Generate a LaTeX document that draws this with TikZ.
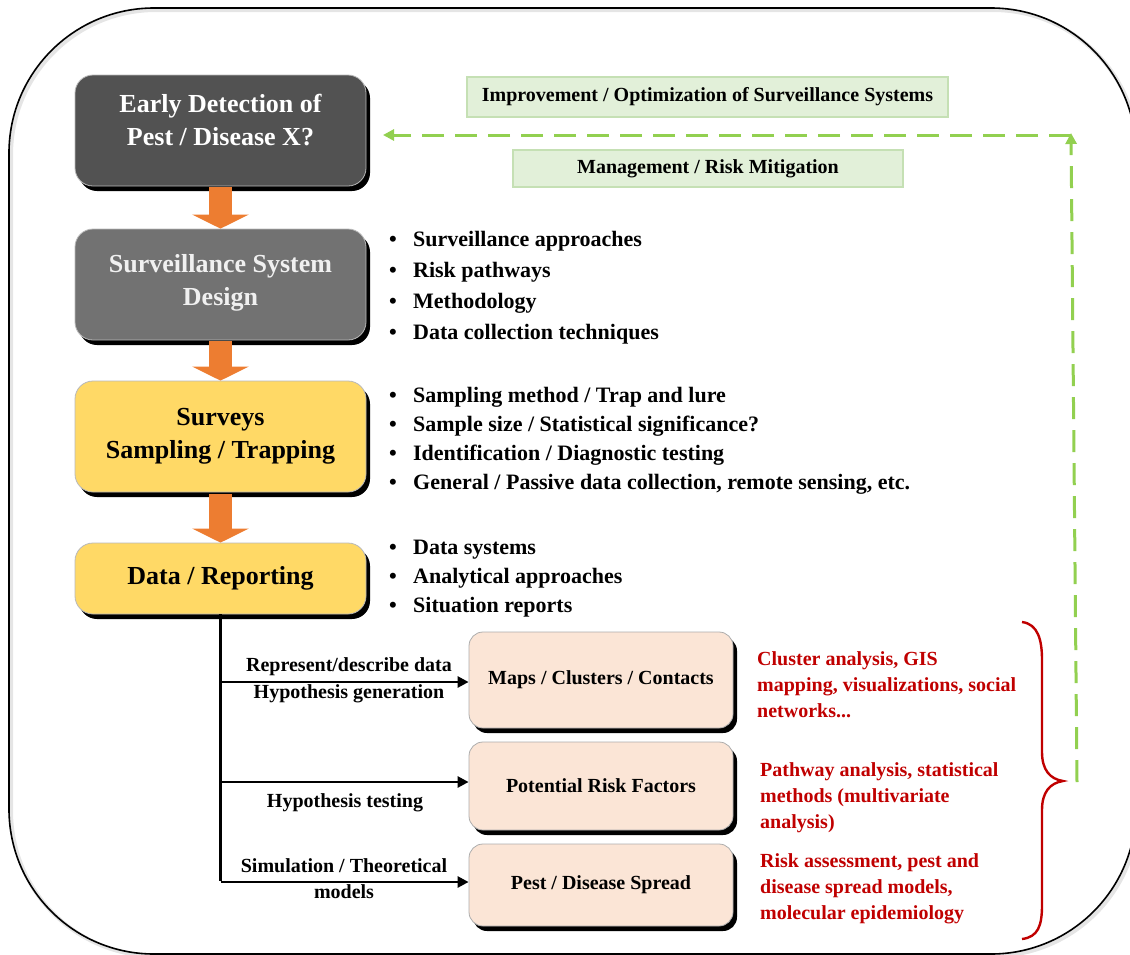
\documentclass[tikz,border=0pt]{standalone}
\usepackage{fontspec}
\setmainfont{Liberation Serif}
\usetikzlibrary{shadows,arrows.meta,calc}
\definecolor{dkA}{HTML}{525252}
\definecolor{dkB}{HTML}{727272}
\definecolor{ylw}{HTML}{FFD966}
\definecolor{pnk}{HTML}{FBE5D6}
\definecolor{gfill}{HTML}{E2F0D9}
\definecolor{gdraw}{HTML}{C5E0B4}
\definecolor{gline}{HTML}{92D050}
\definecolor{orng}{HTML}{ED7D31}
\definecolor{rd}{HTML}{C00000}
\tikzset{
  blkshadow/.style={drop shadow={shadow xshift=4pt,shadow yshift=-5pt,fill=black,opacity=1}},
  mainbox/.style={rounded corners=18pt, minimum width=291pt, minimum height=111pt, draw=gray!55,
     line width=0.8pt, align=center, inner sep=0pt, font=\bfseries\fontsize{26}{33}\selectfont, blkshadow},
  pbox/.style={rounded corners=14pt, minimum width=264pt, fill=pnk, draw=gray!65, line width=0.8pt,
     inner sep=0pt, font=\bfseries\fontsize{20}{24}\selectfont, blkshadow},
  gbox/.style={fill=gfill, draw=gdraw, line width=2pt, inner sep=0pt, font=\bfseries\fontsize{20}{24}\selectfont},
  blist/.style={anchor=north west, align=left, inner sep=0pt, font=\bfseries\fontsize{22}{31}\selectfont},
  rlist/.style={anchor=north west, align=left, inner sep=0pt, text=rd, font=\bfseries\fontsize{20}{26}\selectfont},
  lbl/.style={inner sep=0pt, font=\bfseries\fontsize{20}{26}\selectfont, align=center},
  fat/.style={line width=23pt, orng, -{Triangle[width=56pt,length=14pt]}},
  thin/.style={line width=2.6pt, black, -{Triangle[width=11pt,length=11pt]}},
  gdash/.style={line width=3pt, gline, dash pattern=on 22pt off 11pt, -{Triangle[width=11pt,length=11pt]}}
}
\newcommand{\bul}{\makebox[24pt][l]{\textbullet}}
\begin{document}
\begin{tikzpicture}[x=1pt,y=-1pt]
\useasboundingbox (0,0) rectangle (1130,954);
\begin{scope}
\clip (0,0) rectangle (1130,954);
\draw[line width=4pt, black!10, rounded corners=145pt] (11,10) rectangle (1138,956);
\draw[line width=1.6pt, black, rounded corners=145pt] (9,8) rectangle (1136,954);
\end{scope}

% main boxes
\node[mainbox, fill=dkA, text=white] (ed) at (220.5,130.5) {Early Detection of\\Pest / Disease X?\\[-12pt]\mbox{}};
\node[mainbox, fill=dkB, text=white!94!black] (sd) at (220.5,284.5) {Surveillance System\\Design\\[-23pt]\mbox{}};
\node[mainbox, fill=ylw] (ss) at (220.5,436.5) {Surveys\\Sampling / Trapping};
\node[mainbox, fill=ylw, minimum height=71pt] (dr) at (220.5,578.5) {Data / Reporting};

% orange arrows
\draw[fat] ([yshift=-1pt]ed.south) -- (sd.north);
\draw[fat] ([yshift=-1pt]sd.south) -- (ss.north);
\draw[fat] ([yshift=-2pt]ss.south) -- (dr.north);

% bullet lists
\node[blist] (l1) at (389,231) {\bul Surveillance approaches\\\bul Risk pathways\\\bul Methodology\\\bul Data collection techniques};
\node[blist] (l2) at (389,387) {\bul Sampling method / Trap and lure\\[-2pt]\bul Sample size / Statistical significance?\\[-2pt]\bul Identification / Diagnostic testing\\[-2pt]\bul General / Passive data collection, remote sensing, etc.};
\node[blist] (l3) at (389,540) {\bul Data systems\\[-2pt]\bul Analytical approaches\\[-2pt]\bul Situation reports};

% green boxes
\node[gbox, minimum width=481pt, minimum height=40pt] (imp) at (707.5,97) {Improvement / Optimization of Surveillance Systems};
\node[gbox, minimum width=390pt, minimum height=37pt] (mgt) at (708,168.5) {Management / Risk Mitigation};

% pink boxes
\node[pbox, minimum height=96pt] (mc) at (601,680) {Maps / Clusters / Contacts};
\node[pbox, minimum height=88pt] (rf) at (601,786) {Potential Risk Factors};
\node[pbox, minimum height=82pt] (ps) at (601,885) {Pest / Disease Spread};

% tree
\coordinate (j1) at (dr.south |- 0,682);
\coordinate (j2) at (dr.south |- 0,782);
\coordinate (j3) at (dr.south |- 0,882);
\draw[line width=2.6pt, black] (dr.south) -- ([yshift=1.3pt]j3);
\draw[thin] (j1) -- (mc.west |- j1);
\draw[thin] (j2) -- (rf.west |- j2);
\draw[thin] (j3) -- (ps.west |- j3);

\node[lbl] (a1) at (349,667) {Represent/describe data};
\node[lbl] (a2) at (349,694) {Hypothesis generation};
\node[lbl] (a3) at (345,803) {Hypothesis testing};
\node[lbl] (a4) at (344,866) {Simulation / Theoretical};
\node[lbl] (a5) at (344,892) {models};

% red texts
\node[rlist] (r1) at (757,651) {Cluster analysis, GIS\\mapping, visualizations, social\\networks...};
\node[rlist] (r2) at (760,762) {Pathway analysis, statistical\\methods (multivariate\\analysis)};
\node[rlist] (r3) at (760,853) {Risk assessment, pest and\\disease spread models,\\molecular epidemiology};

% brace
\coordinate (bt) at (1063,781);
\draw[rd, line width=2.4pt] (1022,622) .. controls (1038,624) and (1042,640) .. (1042,660) -- (1042,752)
   .. controls (1042,770) and (1050,779) .. (bt) .. controls (1050,783) and (1042,792) .. (1042,810)
   -- (1042,905) .. controls (1042,926) and (1038,937) .. (1022,939);

% feedback dashed
\coordinate (gs) at (1077,782);
\coordinate (gc) at (1071,135);
\coordinate (ge) at (383,135);
\draw[gdash] (gs) -- ([yshift=2pt]gc);
\draw[gdash] (gc) -- (ge);
\end{tikzpicture}
\end{document}
